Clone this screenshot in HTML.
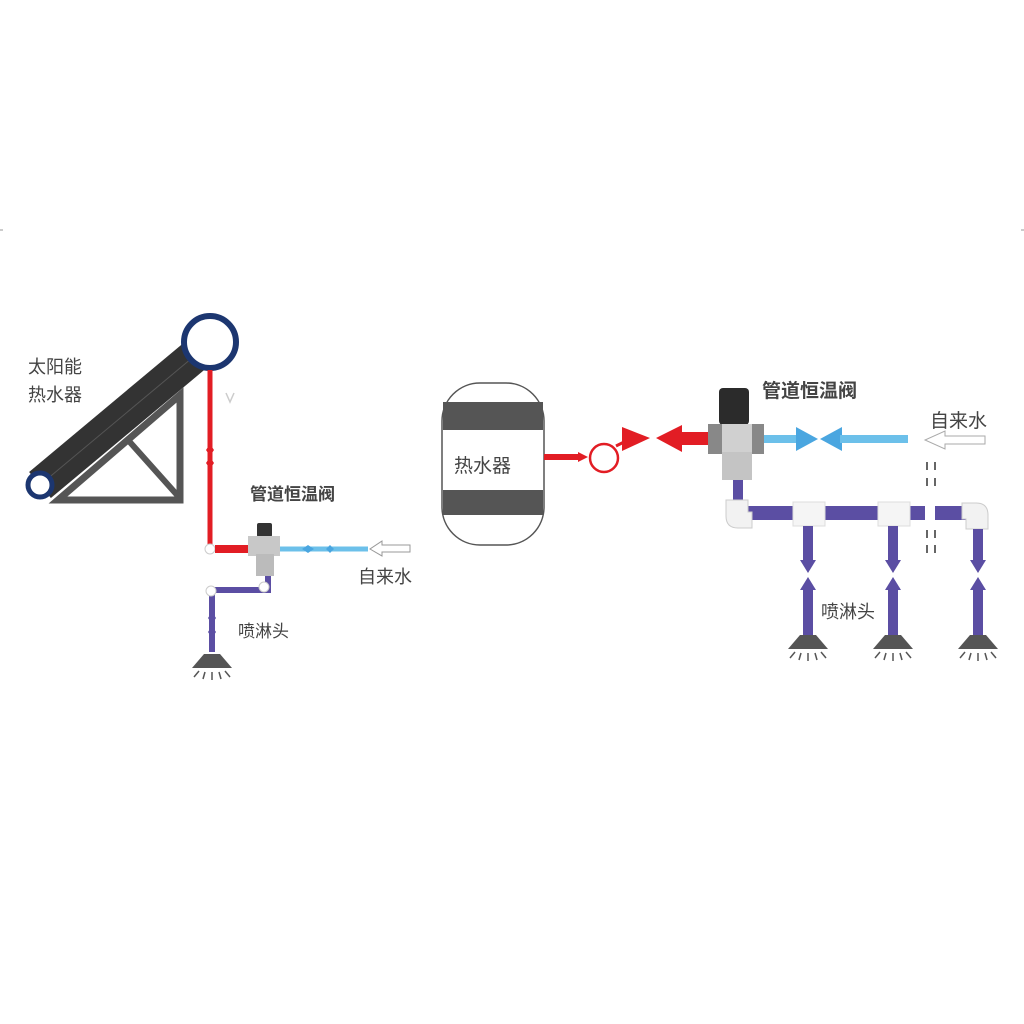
<!DOCTYPE html><html><head><meta charset="utf-8"><style>body{margin:0;background:#fff}svg{display:block}text{font-family:"Liberation Sans","Noto Sans CJK SC",sans-serif;fill:#444}</style></head><body>
<svg width="1024" height="1024" viewBox="0 0 1024 1024">
<defs>
<g id="shower"><polygon points="-8,0 8,0 20,14 -20,14" fill="#555"/><g stroke="#555" stroke-width="1.5"><line x1="0" y1="18" x2="0" y2="26"/><line x1="-7" y1="18" x2="-9" y2="25"/><line x1="7" y1="18" x2="9" y2="25"/><line x1="-13" y1="17" x2="-18" y2="23"/><line x1="13" y1="17" x2="18" y2="23"/></g></g>
</defs>
<line x1="0" y1="230" x2="3" y2="230" stroke="#999"/><line x1="1021" y1="230" x2="1024" y2="230" stroke="#999"/>
<!-- left solar -->
<polygon points="58,500 180,500 180,395" fill="none" stroke="#555" stroke-width="7"/>
<line x1="128" y1="440" x2="178" y2="496" stroke="#555" stroke-width="6"/>
<line x1="40" y1="485" x2="210" y2="343" stroke="#333" stroke-width="34"/>
<line x1="40" y1="485" x2="210" y2="343" stroke="#555" stroke-width="1"/>
<circle cx="210" cy="342" r="26" fill="#fff" stroke="#1c3670" stroke-width="6"/>
<circle cx="40" cy="485" r="12" fill="#fff" stroke="#1c3670" stroke-width="5"/>
<text x="28" y="373" font-size="18">太阳能</text><text x="28" y="401" font-size="18">热水器</text>
<path d="M226,393 l4,9 l4,-9" fill="none" stroke="#ccc" stroke-width="1.5"/>
<line x1="210" y1="370" x2="210" y2="548" stroke="#e21d24" stroke-width="5"/>
<polygon points="206,450 210,444 214,450 210,456" fill="#e21d24"/><polygon points="206,463 210,457 214,463 210,469" fill="#e21d24"/>
<circle cx="210" cy="549" r="5" fill="#fff" stroke="#ccc"/>
<line x1="215" y1="549" x2="252" y2="549" stroke="#e21d24" stroke-width="8"/>
<rect x="257" y="523" width="15" height="14" rx="2" fill="#333"/>
<rect x="248" y="536" width="32" height="20" fill="#c8c8c8"/><rect x="256" y="554" width="18" height="22" fill="#bbb"/>
<line x1="280" y1="549" x2="368" y2="549" stroke="#6cc0ea" stroke-width="5"/>
<polygon points="308,545 314,549 308,553 302,549" fill="#4aa6e0"/><polygon points="330,545 326,549 330,553 334,549" fill="#4aa6e0"/>
<path d="M410,545 H382 V541 L370,549 L382,556 V552 H410 Z" fill="#fff" stroke="#999"/>
<text x="358" y="583" font-size="18">自来水</text>
<text x="250" y="500" font-size="17" fill="#333" font-weight="bold">管道恒温阀</text>
<path d="M268,576 V590 H212 V652" fill="none" stroke="#5b4ea3" stroke-width="6"/>
<circle cx="264" cy="587" r="5" fill="#fff" stroke="#ccc"/><circle cx="211" cy="591" r="5" fill="#fff" stroke="#ccc"/>
<polygon points="208,618 212,612 216,618 212,624" fill="#5b4ea3"/><polygon points="208,632 212,626 216,632 212,638" fill="#5b4ea3"/>
<text x="238" y="637" font-size="17">喷淋头</text>
<use href="#shower" x="212" y="654"/>
<!-- right tank -->
<rect x="442" y="383" width="102" height="162" rx="38" fill="#fff" stroke="#555" stroke-width="1.5"/>
<rect x="443" y="402" width="100" height="28" fill="#555"/><rect x="443" y="490" width="100" height="25" fill="#555"/>
<text x="454" y="472" font-size="19" fill="#333">热水器</text>
<line x1="544" y1="457" x2="580" y2="457" stroke="#e21d24" stroke-width="6"/>
<polygon points="578,452 588,457 578,462" fill="#e21d24"/>
<circle cx="604" cy="458" r="14" fill="#fff" stroke="#e21d24" stroke-width="2.5"/>
<line x1="616" y1="446" x2="626" y2="441" stroke="#e21d24" stroke-width="3"/>
<polygon points="622,427 650,438 622,451" fill="#e21d24"/>
<polygon points="656,438 682,425 682,432 712,432 712,445 682,445 682,452" fill="#e21d24"/>
<rect x="719" y="388" width="30" height="37" rx="4" fill="#2b2b2b"/>
<rect x="708" y="424" width="56" height="30" fill="#d0d0d0"/><rect x="708" y="424" width="14" height="30" fill="#888"/><rect x="752" y="424" width="12" height="30" fill="#888"/>
<rect x="722" y="452" width="30" height="28" fill="#c4c4c4"/>
<line x1="764" y1="439" x2="800" y2="439" stroke="#6cc0ea" stroke-width="8"/>
<polygon points="796,427 818,439 796,451" fill="#4aa6e0"/><polygon points="842,427 820,439 842,451" fill="#4aa6e0"/>
<line x1="840" y1="439" x2="908" y2="439" stroke="#6cc0ea" stroke-width="8"/>
<path d="M985,436 H945 V431 L925,440 L945,449 V444 H985 Z" fill="#fff" stroke="#aaa"/>
<text x="930" y="427" font-size="19">自来水</text>
<text x="762" y="397" font-size="19" fill="#333" font-weight="bold">管道恒温阀</text>
<g stroke="#666" stroke-width="2"><line x1="927" y1="462" x2="927" y2="470"/><line x1="935" y1="462" x2="935" y2="470"/><line x1="927" y1="478" x2="927" y2="486"/><line x1="935" y1="478" x2="935" y2="486"/><line x1="927" y1="530" x2="927" y2="538"/><line x1="935" y1="530" x2="935" y2="538"/><line x1="927" y1="545" x2="927" y2="553"/><line x1="935" y1="545" x2="935" y2="553"/></g>
<rect x="733" y="480" width="10" height="25" fill="#5b4ea3"/>
<line x1="740" y1="513" x2="925" y2="513" stroke="#5b4ea3" stroke-width="14"/>
<line x1="935" y1="513" x2="968" y2="513" stroke="#5b4ea3" stroke-width="14"/>
<path d="M726,500 h22 v12 h4 v16 h-14 q-12,0 -12,-12 Z" fill="#f2f2f2" stroke="#ccc"/>
<rect x="793" y="502" width="32" height="24" fill="#f5f5f5" stroke="#ddd"/><rect x="878" y="502" width="32" height="24" fill="#f5f5f5" stroke="#ddd"/>
<path d="M962,503 h14 q12,0 12,12 v14 h-22 v-10 h-4 Z" fill="#f2f2f2" stroke="#ccc"/>
<g fill="#5b4ea3">
<rect x="803" y="526" width="10" height="36"/><polygon points="800,560 816,560 808,573"/><polygon points="800,590 816,590 808,577"/><rect x="803" y="588" width="10" height="50"/>
<rect x="888" y="526" width="10" height="36"/><polygon points="885,560 901,560 893,573"/><polygon points="885,590 901,590 893,577"/><rect x="888" y="588" width="10" height="50"/>
<rect x="973" y="529" width="10" height="33"/><polygon points="970,560 986,560 978,573"/><polygon points="970,590 986,590 978,577"/><rect x="973" y="588" width="10" height="50"/>
</g>
<text x="821" y="618" font-size="18">喷淋头</text>
<use href="#shower" x="808" y="635"/><use href="#shower" x="893" y="635"/><use href="#shower" x="978" y="635"/>
</svg></body></html>
